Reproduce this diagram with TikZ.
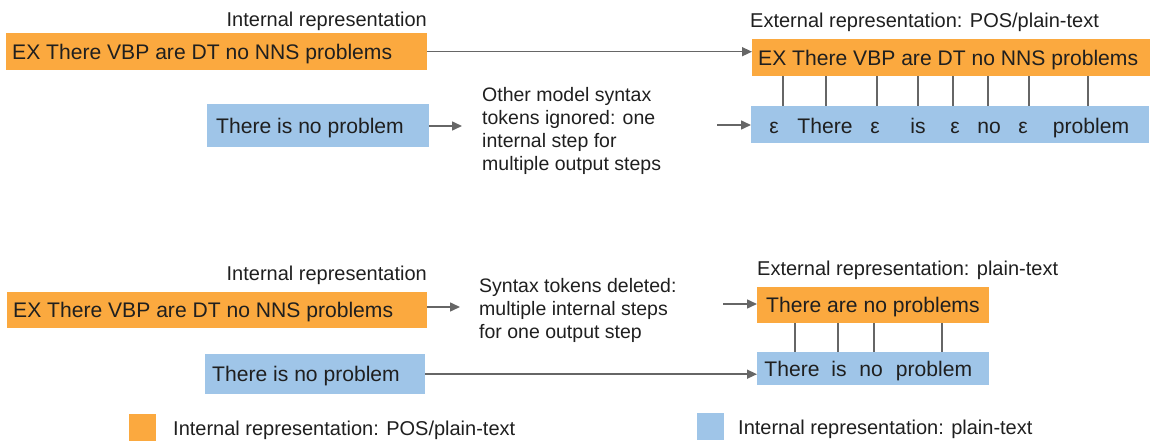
\documentclass[tikz,border=0pt]{standalone}
\usepackage{fontspec}
\setmainfont{Liberation Sans}
\usetikzlibrary{arrows.meta}
\definecolor{ocol}{HTML}{FBA93F}
\definecolor{bcol}{HTML}{9FC5E8}
\definecolor{lcol}{HTML}{666666}
\definecolor{txt}{HTML}{1F1F1F}
\newcommand{\boxfont}{\fontsize{21.1}{24}\selectfont}
\tikzset{
  box/.style={draw=none, inner ysep=0pt, text height=15.1pt, text depth=0pt,
    anchor=north west, font=\boxfont, text=txt},
  obox/.style={box, fill=ocol},
  bbox/.style={box, fill=bcol},
  tok/.style={inner sep=0pt, text height=15.1pt, text depth=0pt, font=\boxfont, text=txt},
  lbl/.style={font=\fontsize{20}{24}\selectfont, inner sep=0pt, text=txt, text height=14.3pt, text depth=0pt},
  note/.style={font=\fontsize{19.5}{23}\selectfont, inner sep=0pt, align=left, anchor=north west, text=txt},
  arr/.style={draw=lcol, line width=1.5pt, -{Triangle[length=10pt,width=9pt]}},
  tick/.style={draw=lcol, line width=1.5pt},
  sq/.style={draw=none, minimum width=27pt, minimum height=27pt, inner sep=0pt, anchor=north west},
}
\begin{document}
\begin{tikzpicture}[x=1pt,y=-1pt]
\useasboundingbox (0,0) rectangle (1154,441);

% ---------- top part ----------
\node[lbl, anchor=east] (l1) at (427,19) {Internal representation};
\node[obox, inner xsep=6pt, minimum height=37pt] (o1) at (6,33) {\makebox[409pt][l]{EX There VBP are DT no NNS problems}};
\node[bbox, inner xsep=9pt, minimum height=43pt] (b1) at (207,104) {\makebox[204pt][l]{There is no problem}};

\node[lbl, anchor=west] (l2) at (750,20) {External representation: POS/plain-text};
\node[obox, inner xsep=6pt, minimum height=37pt] (o2) at (752,39) {\makebox[386pt][l]{EX There VBP are DT no NNS problems}};
\node[bbox, inner xsep=0pt, minimum width=398pt, minimum height=37pt] (b2) at (751,106) {};

\node[tok] (t1) at (774,125.5) {ε};
\node[tok] (t2) at (825,125.5) {There};
\node[tok] (t3) at (875,125.5) {ε};
\node[tok] (t4) at (918,125.5) {is};
\node[tok] (t5) at (955,125.5) {ε};
\node[tok] (t6) at (989,125.5) {no};
\node[tok] (t7) at (1023,125.5) {ε};
\node[tok] (t8) at (1091,125.5) {problem};

\node[note] (n1) at (482,87) {Other model syntax\\tokens ignored: one\\internal step for\\multiple output steps};

\draw[arr] (o1.east) -- (o1.east -| o2.west);
\coordinate (c1) at (462,126);
\draw[arr] (b1.east |- c1) -- (c1);
\coordinate (c2) at (717,125);
\draw[arr] (c2) -- (c2 -| b2.west);

\foreach \x in {783,826,877,918,953,988,1029,1088}
  \draw[tick] (\x,0 |- o2.south) -- (\x,0 |- b2.north);

% ---------- bottom part ----------
\node[lbl, anchor=east] (l3) at (427,273) {Internal representation};
\node[obox, inner xsep=6pt, minimum height=36pt] (o3) at (7,292) {\makebox[408pt][l]{EX There VBP are DT no NNS problems}};
\node[bbox, inner xsep=7pt, minimum height=40pt] (b3) at (205,354) {\makebox[206pt][l]{There is no problem}};

\node[lbl, anchor=west] (l4) at (757,268) {External representation: plain-text};
\node[obox, inner xsep=9pt, minimum height=36pt] (o4) at (757,287) {\makebox[214pt][l]{There are no problems}};
\node[bbox, inner xsep=0pt, minimum width=232pt, minimum height=33pt] (b4) at (757,352) {};

\node[tok] (u1) at (792,369) {There};
\node[tok] (u2) at (839,369) {is};
\node[tok] (u3) at (871,369) {no};
\node[tok] (u4) at (934,369) {problem};

\node[note] (n2) at (479,278) {Syntax tokens deleted:\\multiple internal steps\\for one output step};

\coordinate (c3) at (460,307);
\draw[arr] (o3.east |- c3) -- (c3);
\coordinate (c4) at (723,304);
\draw[arr] (c4) -- (c4 -| o4.west);
\draw[arr] (b3.east) -- (b3.east -| b4.west);

\foreach \x in {795,838,874,942}
  \draw[tick] (\x,0 |- o4.south) -- (\x,0 |- b4.north);

% ---------- legend ----------
\node[sq, fill=ocol] (s1) at (129,414) {};
\node[lbl, anchor=west] (k1) at (173,428) {Internal representation: POS/plain-text};
\node[sq, fill=bcol] (s2) at (697,413) {};
\node[lbl, anchor=west] (k2) at (738,427) {Internal representation: plain-text};
\end{tikzpicture}
\end{document}
